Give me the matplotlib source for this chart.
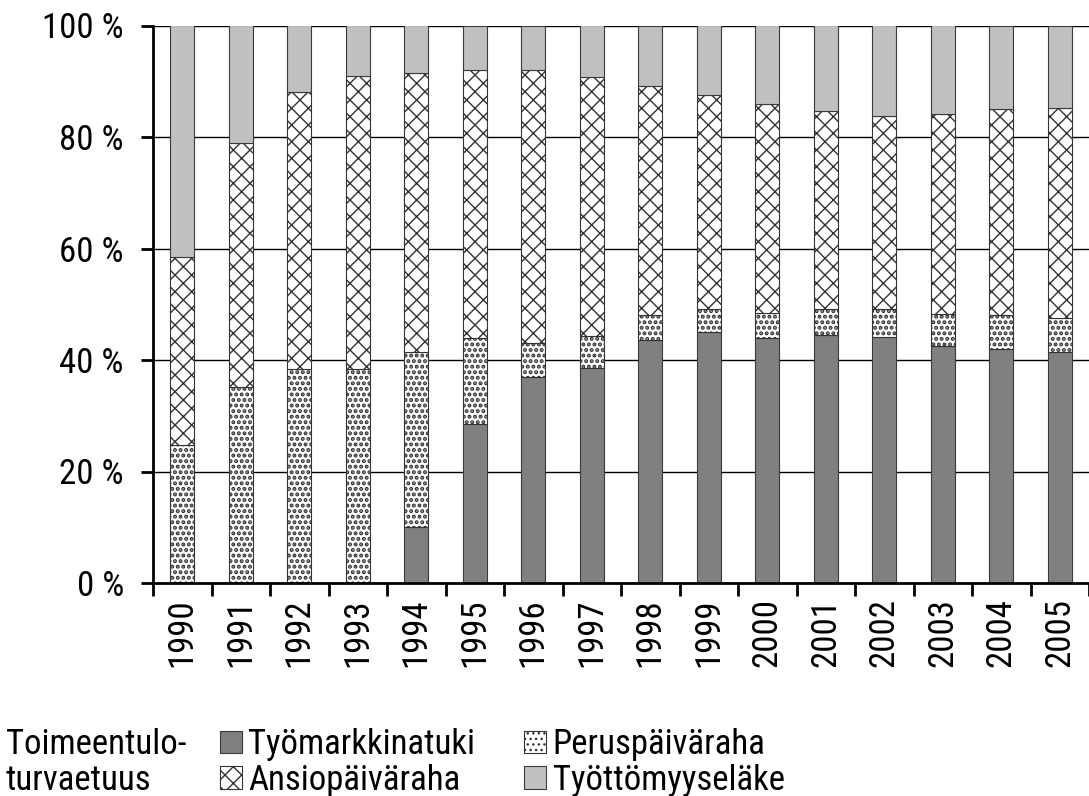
import matplotlib
matplotlib.use('Agg')
import matplotlib.pyplot as plt
import numpy as np
from matplotlib.ticker import FixedLocator, FuncFormatter

years = [str(y) for y in range(1990, 2006)]
tyomarkkinatuki = [0, 0, 0, 0, 10.0, 28.6, 37.0, 38.6, 43.5, 45.0, 44.0, 44.5, 44.1, 42.6, 41.9, 41.4]
peruspaivaraha = [24.8, 35.1, 38.3, 38.3, 31.4, 15.3, 6.0, 5.7, 4.6, 4.2, 4.4, 4.6, 5.0, 5.7, 6.1, 6.1]
ansiopaivaraha = [33.6, 43.9, 49.8, 52.7, 50.0, 48.1, 49.0, 46.4, 41.0, 38.4, 37.5, 35.5, 34.7, 35.9, 37.0, 37.7]
tyottomyyselake = [41.6, 21.0, 11.9, 9.0, 8.6, 8.0, 8.0, 9.3, 10.9, 12.4, 14.1, 15.4, 16.2, 15.8, 15.0, 14.8]
y_ticks = [0, 20, 40, 60, 80, 100]

plt.rcParams['font.family'] = ['Roboto Condensed', 'Liberation Sans', 'DejaVu Sans']
plt.rcParams['hatch.linewidth'] = 1.0

W, H = 1089, 796
fig = plt.figure(figsize=(W / 100, H / 100), dpi=100)
ax = fig.add_axes([153 / W, 1 - 583 / H, 1 - 153 / W, (583 - 25.5) / H])

x = np.arange(len(years))
w = 0.41
fs = 25

b1 = np.array(tyomarkkinatuki)
b2 = b1 + np.array(peruspaivaraha)
b3 = b2 + np.array(ansiopaivaraha)

ax.bar(x, tyomarkkinatuki, w, color='#808080', edgecolor='#3a3a3a', lw=0.8,
       label='Työmarkkinatuki', zorder=2)
with plt.rc_context({'hatch.linewidth': 2.0}):
    ax.bar(x, peruspaivaraha, w, bottom=b1, color='white', edgecolor='#333333', lw=0.8,
           hatch='...', label='Peruspäiväraha', zorder=2)
with plt.rc_context({'hatch.linewidth': 1.0}):
    ax.bar(x, ansiopaivaraha, w, bottom=b2, color='white', edgecolor='#333333', lw=0.8,
           hatch='xx', label='Ansiopäiväraha', zorder=2)
ax.bar(x, tyottomyyselake, w, bottom=b3, color='#c0c0c0', edgecolor='#3a3a3a', lw=0.8,
       label='Työttömyyseläke', zorder=2)

ax.set_xlim(-0.5, len(years) - 0.5)
ax.set_ylim(0, 100)
ax.set_yticks(y_ticks)
ax.yaxis.set_major_formatter(FuncFormatter(lambda v, p: f'{int(v)} %'))
ax.yaxis.grid(True, color='black', lw=1.0, zorder=0)
ax.set_axisbelow(True)

ax.set_xticks(x)
ax.set_xticklabels(years, rotation=90, fontsize=fs)
ax.xaxis.set_minor_locator(FixedLocator(np.arange(-0.5, len(years), 1.0)))
ax.tick_params(axis='x', which='major', length=0, pad=11)
ax.tick_params(axis='x', which='minor', length=9, width=2, direction='out')
ax.tick_params(axis='y', which='major', length=9, width=2, direction='out', pad=12, labelsize=fs)

for s in ['top', 'right']:
    ax.spines[s].set_visible(False)
ax.spines['left'].set_linewidth(2)
ax.spines['bottom'].set_linewidth(2)

fig.text(6 / W, 1 - 728 / H, 'Toimeentulo-\nturvaetuus', fontsize=fs, va='top', ha='left',
         linespacing=1.1)

handles, labels = ax.get_legend_handles_labels()
order = [0, 2, 1, 3]
fig.legend([handles[i] for i in order], [labels[i] for i in order],
           loc='upper left', bbox_to_anchor=(220 / W, 1 - 728 / H), ncol=2, frameon=False,
           fontsize=fs, handlelength=0.62, handleheight=0.62, handletextpad=0.2,
           columnspacing=1.4, labelspacing=0.08, borderaxespad=0, borderpad=0)

fig.savefig('out.png', dpi=100)
